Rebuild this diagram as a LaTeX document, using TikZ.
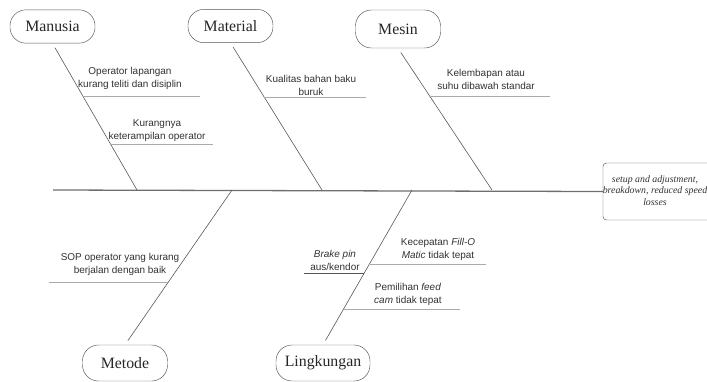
\documentclass[tikz,border=0pt]{standalone}
\usepackage{fontspec}
\setmainfont{Liberation Serif}
\setsansfont{Liberation Sans}
\usetikzlibrary{positioning}
\usepackage{xcolor}
\definecolor{fbgray}{RGB}{85,85,85}
\definecolor{fbspine}{RGB}{110,110,110}
\definecolor{fblight}{RGB}{170,170,170}
\definecolor{fbtext}{RGB}{50,50,50}
\tikzset{
    cat/.style={
        draw=fbgray,rounded corners=0.48cm,inner sep=0pt,
        minimum width=2.55cm,minimum height=1cm,
        font=\fontsize{13.5}{15}\selectfont,text=black!85
    },
    cause/.style={
        align=center,inner sep=0pt,text=fbtext,
        font=\sffamily\fontsize{8.5}{11}\selectfont
    },
    bone/.style={draw=fbgray,line width=0.5pt,shorten <=1.5mm},
    rib/.style={draw=fblight,line width=0.6pt},
    spine/.style={draw=fbspine,line width=1.1pt}
}

\begin{document}
\begin{tikzpicture}[x=0.03cm,y=-0.03cm]

\useasboundingbox (0,0) rectangle (707,381);
\clip (0,0) rectangle (707,381);

\node[cat] (manusia) at (52.5,26.5) {Manusia};
\node[cat] (material) at (230.5,26) {Material};
\node[cat,minimum height=1.14cm] (mesin) at (398,29) {Mesin};
\node[cat,minimum height=1.08cm] (metode) at (125,363) {Metode};
\node[cat,minimum width=2.82cm,minimum height=1.08cm] (lingkungan) at (323,363) {Lingkungan};

\node[
draw=fbgray,rounded corners=3pt,inner sep=0pt,
minimum width=3.24cm,minimum height=1.71cm
]
(effectbox) at (657,191.5) {};
\node[
align=center,inner sep=0pt,
font=\itshape\fontsize{8.4}{9.8}\selectfont,text=fbtext
]
(effect) at (655,190.5)
{
setup and adjustment,\\
breakdown, reduced speed\\
losses
};

\coordinate (tail) at (53,190);
\coordinate (s1) at (137,190);
\coordinate (s2) at (322,190);
\coordinate (s3) at (492,190);
\coordinate (s4) at (232,190);
\coordinate (s5) at (412,190);

\draw[spine](tail)--(effectbox.west);
\draw[bone](manusia.south)--(s1);
\draw[bone](material.south)--(s2);
\draw[bone](mesin.south)--(s3);
\draw[bone](metode.north)--(s4);
\draw[bone](lingkungan.north)--(s5);

\node[cause] (c1) at (130,78.5) {Operator lapangan\\kurang teliti dan disiplin};
\node[cause] (c2) at (157,131) {Kurangnya\\keterampilan operator};
\node[cause] (c3) at (311,85.5) {Kualitas bahan baku\\buruk};
\node[cause] (c4) at (486,79) {Kelembapan atau\\suhu dibawah standar};
\node[cause] (c5) at (120,264.5) {SOP operator yang kurang\\berjalan dengan baik};
\node[cause] (c6) at (335,260.5) {\textit{Brake pin}\\aus/kendor};
\node[cause] (c7) at (438,249) {Kecepatan \textit{Fill-O}\\\textit{Matic} tidak tepat};
\node[cause] (c8) at (408,294.5) {Pemilihan \textit{feed}\\\textit{cam} tidak tepat};

\coordinate (r1) at (intersection of manusia.south--s1 and 0,96--1,96);
\coordinate (r2) at (intersection of manusia.south--s1 and 0,144--1,144);
\coordinate (r3) at (intersection of material.south--s2 and 0,97--1,97);
\coordinate (r4) at (intersection of mesin.south--s3 and 0,96--1,96);
\coordinate (r5) at (intersection of metode.north--s4 and 0,282--1,282);
\coordinate (r6) at (intersection of lingkungan.north--s5 and 0,273--1,273);
\coordinate (r7) at (intersection of lingkungan.north--s5 and 0,264--1,264);
\coordinate (r8) at (intersection of lingkungan.north--s5 and 0,309--1,309);

\draw[rib](r1)--++(117,0);
\draw[rib](r2)--++(103,0);
\draw[rib](r3)--++(102,0);
\draw[rib](r4)--++(120,0);
\draw[rib](r5)--++(-119,0);
\draw[rib,draw=fbgray](r6)--++(-60,0);
\draw[rib](r7)--++(117,0);
\draw[rib](r8)--++(116,0);

\end{tikzpicture}
\end{document}
